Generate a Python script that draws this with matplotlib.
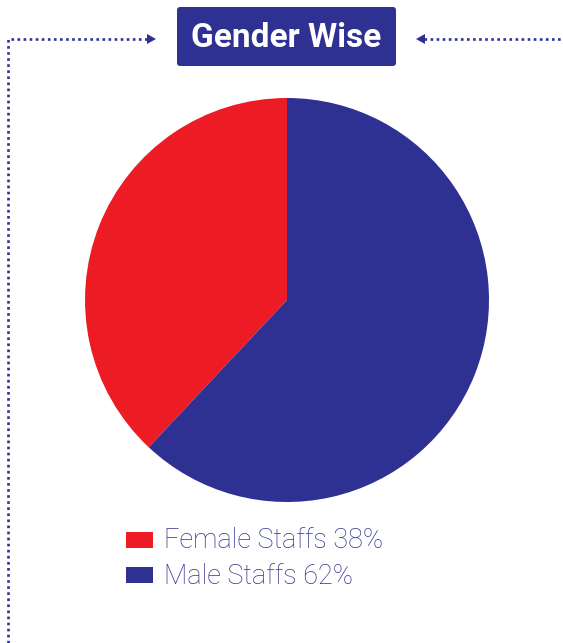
import matplotlib
matplotlib.use("Agg")
import matplotlib.pyplot as plt
from matplotlib.patches import FancyBboxPatch, Rectangle

# data
labels = ["Female Staffs", "Male Staffs"]
shares = [38, 62]
colors = ["#ED1C24", "#2E3192"]
title = "Gender Wise"

W, H = 563, 643
navy = "#2E3192"

fig = plt.figure(figsize=(W / 100, H / 100), dpi=100)
ax = fig.add_axes([0, 0, 1, 1])

# pie (y axis is inverted, so go clockwise in data = counterclockwise on screen)
ax.pie(shares, colors=colors, startangle=-90, counterclock=False,
       center=(287, 300), radius=202, wedgeprops=dict(linewidth=0))

ax.set_xlim(0, W)
ax.set_ylim(H, 0)
ax.set_aspect("equal")
ax.axis("off")

# title box
box = FancyBboxPatch((177, 7), 219, 59, boxstyle="round,pad=0,rounding_size=3",
                     fc=navy, ec="none")
ax.add_patch(box)
ax.text(286.5, 38, title, color="white", fontsize=24, fontweight="bold",
        family="Roboto", ha="center", va="center")

# dotted connector lines
ax.plot([8, 8, 148], [643, 39, 39], color=navy, lw=1.9, linestyle=(0, (1, 1.3)),
        solid_capstyle="butt")
ax.plot([424, 563], [39, 39], color=navy, lw=1.9, linestyle=(0, (1, 1.3)))
ax.fill([147, 156, 147], [34, 39, 44], color=navy, lw=0)
ax.fill([425, 416, 425], [34, 39, 44], color=navy, lw=0)

# legend
for i, (lab, val, c) in enumerate(zip(labels, shares, colors)):
    y = 540 + i * 35
    ax.add_patch(Rectangle((126, y - 8), 27, 16, fc=c, ec="none"))
    ax.text(164, y + 1, f"{lab} {val}%", color="#33358F", fontsize=19.5,
            family="Roboto", fontweight="light", ha="left", va="center")

fig.savefig("out.png", dpi=100)
